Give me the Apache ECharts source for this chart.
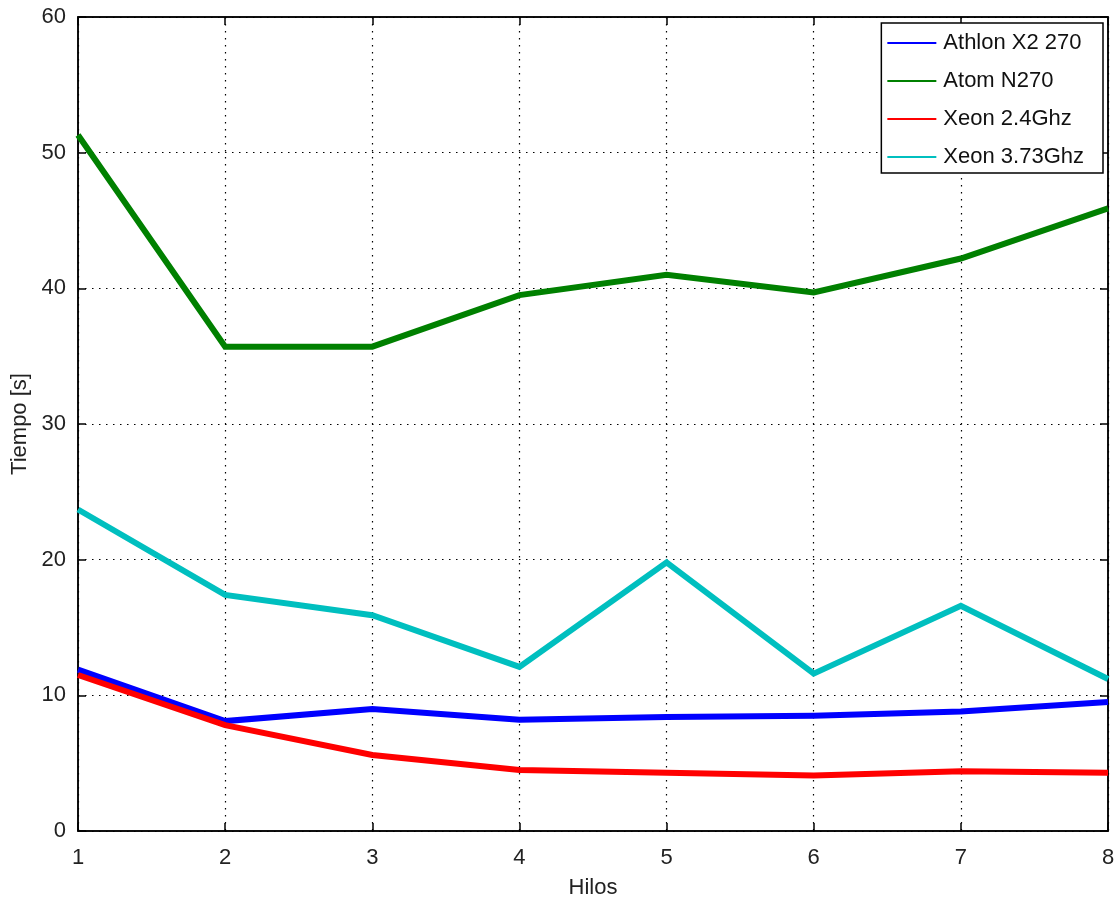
<!DOCTYPE html>
<html>
<head>
<meta charset="utf-8">
<script src="https://cdn.jsdelivr.net/npm/echarts@6/dist/echarts.min.js"></script>
<style>
html,body{margin:0;padding:0;background:#fff;}
#chart{width:1120px;height:900px;}
</style>
</head>
<body>
<div id="chart"></div>
<script>
const hilos = [1, 2, 3, 4, 5, 6, 7, 8];
const athlon = [11.9, 8.1, 9.0, 8.2, 8.4, 8.5, 8.8, 9.5];
const atom = [51.3, 35.7, 35.7, 39.5, 41.0, 39.7, 42.2, 45.9];
const xeon24 = [11.5, 7.8, 5.6, 4.5, 4.3, 4.1, 4.4, 4.3];
const xeon373 = [23.7, 17.4, 15.9, 12.1, 19.8, 11.6, 16.6, 11.2];
const seriesNames = ['Athlon X2 270', 'Atom N270', 'Xeon 2.4Ghz', 'Xeon 3.73Ghz'];
const seriesColors = ['#0000ff', '#008000', '#ff0000', '#00bfbf'];
const seriesValues = [athlon, atom, xeon24, xeon373];

const FONT = 'Liberation Sans, Arial, Helvetica, sans-serif';
const FS = 22;
const chart = echarts.init(document.getElementById('chart'));

const gridLine = { show: true, lineStyle: { color: '#000', type: [1.5, 5.5], width: 1.2 } };
const frameLine = { show: true, onZero: false, lineStyle: { color: '#000', width: 1.5 } };
const innerTick = { show: true, inside: true, length: 8, lineStyle: { color: '#000', width: 1.5 } };

chart.setOption({
  animation: false,
  backgroundColor: '#fff',
  grid: { left: 78, right: 12, top: 17, bottom: 69, containLabel: false, outerBoundsMode: 'none', show: true, borderColor: '#000', borderWidth: 1.5, backgroundColor: 'transparent' },
  legend: {
    orient: 'vertical',
    right: 17,
    top: 23,
    padding: [9, 19, 5, 6],
    itemGap: 16,
    itemWidth: 49,
    itemHeight: 2,
    icon: 'rect',
    backgroundColor: '#fff',
    borderColor: '#000',
    borderWidth: 1.5,
    borderRadius: 0,
    textStyle: { fontFamily: FONT, fontSize: FS, color: '#111', lineHeight: 22, padding: [0, 0, 0, 2] },
    data: seriesNames
  },
  xAxis: [{
    type: 'value', min: 1, max: 8, interval: 1,
    name: 'Hilos', nameLocation: 'middle', nameGap: 46,
    nameTextStyle: { fontFamily: FONT, fontSize: FS, color: '#222' },
    axisLine: frameLine,
    axisTick: innerTick,
    axisLabel: { fontFamily: FONT, fontSize: FS, color: '#222', margin: 16 },
    splitLine: gridLine
  }, {
    type: 'value', min: 1, max: 8, interval: 1, position: 'top',
    axisLine: frameLine,
    axisTick: innerTick,
    axisLabel: { show: false },
    splitLine: { show: false }
  }],
  yAxis: [{
    type: 'value', min: 0, max: 60, interval: 10,
    name: 'Tiempo [s]', nameLocation: 'middle', nameGap: 45,
    nameTextStyle: { fontFamily: FONT, fontSize: FS, color: '#222' },
    axisLine: frameLine,
    axisTick: innerTick,
    axisLabel: { fontFamily: FONT, fontSize: FS, color: '#222', margin: 12 },
    splitLine: gridLine
  }, {
    type: 'value', min: 0, max: 60, interval: 10, position: 'right',
    axisLine: frameLine,
    axisTick: innerTick,
    axisLabel: { show: false },
    splitLine: { show: false }
  }],
  series: seriesNames.map((name, i) => ({
    name: name,
    type: 'line',
    xAxisIndex: 0,
    yAxisIndex: 0,
    symbol: 'none',
    color: seriesColors[i],
    lineStyle: { color: seriesColors[i], width: 6, join: 'miter' },
    data: hilos.map((h, j) => [h, seriesValues[i][j]]),
    z: 3
  }))
});
</script>
</body>
</html>
